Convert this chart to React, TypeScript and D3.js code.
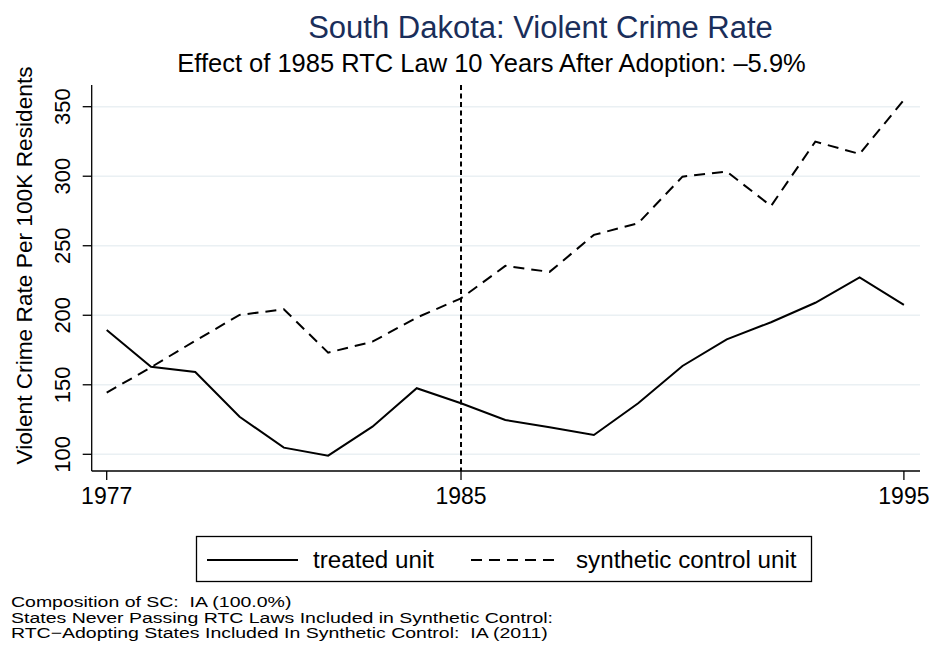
import React from "react";
import * as d3 from "d3";

const years = [1977, 1978, 1979, 1980, 1981, 1982, 1983, 1984, 1985, 1986, 1987, 1988, 1989, 1990, 1991, 1992, 1993, 1994, 1995];
const treated = [189.4, 163, 159.2, 127, 104.8, 99, 119.9, 147.5, 136.7, 124.7, 119.4, 113.9, 136.7, 163.5, 182.7, 195, 209, 227.3, 207.4];
const synthetic = [144.3, 162.6, 181.7, 200.2, 204.3, 173.1, 181, 198.3, 212.2, 235.5, 231.2, 257.8, 266.2, 299.7, 303.3, 278.6, 324.9, 316, 354.9];
const yTicks = [100, 150, 200, 250, 300, 350];
const xTicks = [1977, 1985, 1995];
const adoptionYear = 1985;
const legendLabels = ["treated unit", "synthetic control unit"];
const notes = [
  "Composition of SC:  IA (100.0%)",
  "States Never Passing RTC Laws Included in Synthetic Control:",
  "RTC\u2212Adopting States Included In Synthetic Control:  IA (2011)",
];

const W = 934;
const H = 654;
const FONT = "'Liberation Sans', Arial, Helvetica, sans-serif";

export default function App() {
  const x = d3.scaleLinear().domain([1977, 1995]).range([106.7, 903.9]);
  const y = d3.scaleLinear().domain([100, 350]).range([454.3, 106.7]);
  const line = d3
    .line<number>()
    .x((_, i) => x(years[i]))
    .y((d) => y(d));

  const axisLeft = 91.7;
  const axisBottom = 471;
  const plotTop = 85;
  const plotRight = 920;

  return (
    <svg
      width={W}
      height={H}
      style={{ position: "absolute", left: 0, top: 0, background: "#fff" }}
      fontFamily={FONT}
    >
      <rect x={0} y={0} width={W} height={H} fill="#fff" />
      {/* titles */}
      <text x={540.5} y={38} textAnchor="middle" fontSize={31} fill="#1a2e5a">
        South Dakota: Violent Crime Rate
      </text>
      <text x={491.5} y={72} textAnchor="middle" fontSize={25.5} fill="#000">
        Effect of 1985 RTC Law 10 Years After Adoption: –5.9%
      </text>

      {/* gridlines */}
      {yTicks.map((t) => (
        <line key={t} x1={axisLeft} x2={plotRight} y1={y(t)} y2={y(t)} stroke="#eaf0f3" strokeWidth={1.6} />
      ))}

      {/* axes */}
      <line x1={axisLeft} x2={axisLeft} y1={plotTop} y2={axisBottom} stroke="#000" strokeWidth={1.3} />
      <line x1={axisLeft} x2={plotRight} y1={axisBottom} y2={axisBottom} stroke="#000" strokeWidth={1.3} />
      {yTicks.map((t) => (
        <g key={t}>
          <line x1={axisLeft - 9} x2={axisLeft} y1={y(t)} y2={y(t)} stroke="#000" strokeWidth={1.3} />
          <text
            transform={`translate(70,${y(t)}) rotate(-90)`}
            textAnchor="middle"
            fontSize={22}
            fill="#000"
          >
            {t}
          </text>
        </g>
      ))}
      {xTicks.map((t) => (
        <g key={t}>
          <line x1={x(t)} x2={x(t)} y1={axisBottom} y2={axisBottom + 9} stroke="#000" strokeWidth={1.3} />
          <text x={x(t)} y={504} textAnchor="middle" fontSize={23} fill="#000">
            {t}
          </text>
        </g>
      ))}
      <text
        transform={`translate(32,265.5) rotate(-90)`}
        textAnchor="middle"
        fontSize={22.7}
        fill="#000"
      >
        Violent Crime Rate Per 100K Residents
      </text>

      {/* adoption year marker */}
      <line
        x1={x(adoptionYear)}
        x2={x(adoptionYear)}
        y1={plotTop}
        y2={axisBottom}
        stroke="#000"
        strokeWidth={2}
        strokeDasharray="5,3.5"
      />

      {/* series */}
      <path d={line(treated) ?? ""} fill="none" stroke="#000" strokeWidth={2} strokeLinejoin="miter" />
      <path d={line(synthetic) ?? ""} fill="none" stroke="#000" strokeWidth={2} strokeDasharray="11,7" />

      {/* legend */}
      <rect x={196.5} y={536.5} width={615} height={45} fill="#fff" stroke="#000" strokeWidth={1.3} />
      <line x1={207} x2={298} y1={560} y2={560} stroke="#000" strokeWidth={2} />
      <text x={313} y={568} fontSize={24.2} fill="#000">
        {legendLabels[0]}
      </text>
      <line x1={471} x2={561} y1={560} y2={560} stroke="#000" strokeWidth={2} strokeDasharray="11,7" />
      <text x={576} y={568} fontSize={24.2} fill="#000">
        {legendLabels[1]}
      </text>

      {/* notes: wide lettering stacked tightly */}
      {notes.map((n, i) => (
        <text
          key={i}
          transform={`translate(11,${607 + i * 15.5}) scale(1.3,1)`}
          fontSize={15}
          fill="#000"
          style={{ whiteSpace: "pre" }}
        >
          {n}
        </text>
      ))}
    </svg>
  );
}
